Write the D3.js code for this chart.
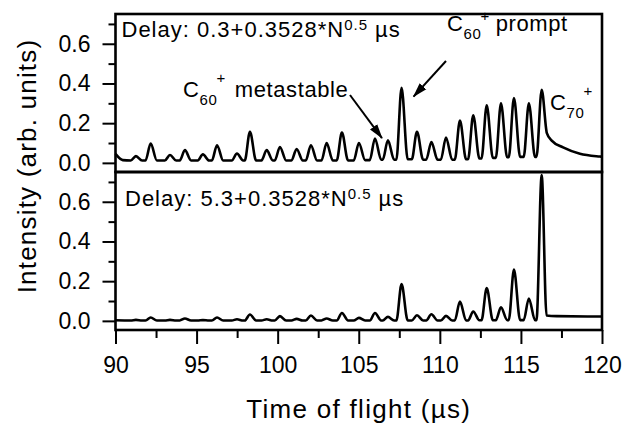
<!DOCTYPE html>
<html>
<head>
<meta charset="utf-8">
<script src="https://cdn.jsdelivr.net/npm/d3@7"></script>
<style>
 body { margin: 0; background: #fff; }
 text { font-family: "Liberation Sans", Arial, Helvetica, sans-serif; fill: #000; }
</style>
</head>
<body>
<div id="chart"></div>
<script>
// tick values
const xTicks = [90, 95, 100, 105, 110, 115, 120];
const xMinorTicks = [92.5, 97.5, 102.5, 107.5, 112.5, 117.5];
const yTicks = [0, 0.2, 0.4, 0.6];
const yMinorTicks = [0.1, 0.3, 0.5, 0.7];

// peak positions (µs), same in both spectra
const peakTimes = [91.26, 92.17, 93.36, 94.28, 95.39, 96.26, 97.49, 98.29, 99.32, 100.14,
 101.17, 102.05, 103.02, 103.96, 105.01, 106.0, 106.8, 107.64, 108.59, 109.48,
 110.38, 111.24, 112.06, 112.89, 113.77, 114.57, 115.49, 116.28];

// delay 0.3 µs
const shortHeights = [0.034, 0.097, 0.04, 0.064, 0.043, 0.089, 0.047, 0.157, 0.064, 0.08,
 0.07, 0.089, 0.1, 0.153, 0.1, 0.123, 0.114, 0.378, 0.157, 0.105,
 0.128, 0.213, 0.24, 0.29, 0.30, 0.327, 0.30, 0.368];
const shortValleys = [0.012, 0.012, 0.012, 0.012, 0.012, 0.012, 0.012, 0.012, 0.012, 0.012,
 0.012, 0.012, 0.012, 0.012, 0.012, 0.014, 0.016, 0.016, 0.018, 0.016,
 0.016, 0.016, 0.018, 0.022, 0.025, 0.028, 0.03, 0.03];
const shortStartTimes = [90, 90.45];
const shortStartValues = [0.045, 0.014];
const shortTailTimes = [116.6, 116.9, 117.6, 118.64, 119.87, 120];
const shortTailValues = [0.15, 0.112, 0.078, 0.046, 0.032, 0.031];

// delay 5.3 µs
const longHeights = [0.005, 0.017, 0.005, 0.012, 0.004, 0.017, 0.008, 0.032, 0.008, 0.024,
 0.01, 0.027, 0.012, 0.04, 0.015, 0.04, 0.02, 0.185, 0.028, 0.033,
 0.025, 0.097, 0.047, 0.165, 0.068, 0.258, 0.113, 0.735];
const longValleys = [0.002, 0.002, 0.002, 0.002, 0.002, 0.002, 0.002, 0.002, 0.002, 0.002,
 0.002, 0.002, 0.002, 0.002, 0.002, 0.002, 0.002, 0.002, 0.002, 0.002,
 0.002, 0.002, 0.002, 0.003, 0.003, 0.004, 0.004, 0.004];
const longStartTimes = [90];
const longStartValues = [0.003];
const longTailTimes = [116.58, 117.2, 120];
const longTailValues = [0.027, 0.024, 0.022];

const width = 623, height = 426;
const left = 115.5, right = 602;
const panelH = 158;
const panelTops = [14, 172];

const svg = d3.select("#chart").append("svg")
 .attr("width", width)
 .attr("height", height);

const x = d3.scaleLinear().domain([90, 120]).range([left, right]);
const y = d3.scaleLinear().domain([-0.046, 0.75]).range([panelH, 0]);

const buildSeries = (startT, startV, heights, valleys, tailT, tailV) => {
 const pts = startT.map((t, i) => [t, startV[i]]);
 peakTimes.forEach((p, i) => {
  pts.push([p - 0.32, valleys[i]]);
  pts.push([p, heights[i]]);
  if (i < peakTimes.length - 1) pts.push([p + 0.38, valleys[i + 1]]);
 });
 tailT.forEach((t, i) => pts.push([t, tailV[i]]));
 return pts;
};

const series = [
 buildSeries(shortStartTimes, shortStartValues, shortHeights, shortValleys, shortTailTimes, shortTailValues),
 buildSeries(longStartTimes, longStartValues, longHeights, longValleys, longTailTimes, longTailValues)
];

const line = d3.line()
 .x(d => x(d[0]))
 .y(d => y(d[1]))
 .curve(d3.curveMonotoneX);

svg.append("defs").append("marker")
 .attr("id", "head")
 .attr("markerUnits", "userSpaceOnUse")
 .attr("viewBox", "0 -5 15 10")
 .attr("refX", 14)
 .attr("refY", 0)
 .attr("markerWidth", 15)
 .attr("markerHeight", 10)
 .attr("orient", "auto")
 .append("path")
 .attr("d", "M0,-4.5L15,0L0,4.5Z")
 .attr("fill", "#000");

panelTops.forEach((top, k) => {
 const g = svg.append("g").attr("transform", `translate(0,${top})`);

 g.append("path")
  .datum(series[k])
  .attr("d", line)
  .attr("fill", "none")
  .attr("stroke", "#000")
  .attr("stroke-width", 2.6)
  .attr("stroke-linejoin", "round");

 const major = g.append("g")
  .attr("transform", `translate(${left},0)`)
  .call(d3.axisLeft(y).tickValues(yTicks).tickSize(13).tickPadding(12).tickFormat(d3.format(".1f")));
 const minor = g.append("g")
  .attr("transform", `translate(${left},0)`)
  .call(d3.axisLeft(y).tickValues(yMinorTicks).tickSize(7).tickFormat(""));
 [major, minor].forEach(a => {
  a.select(".domain").remove();
  a.selectAll("line").attr("stroke-width", 2);
  a.selectAll("text").style("font-size", "23px").attr("fill", "#000");
 });

 g.append("rect")
  .attr("x", left)
  .attr("y", 0)
  .attr("width", right - left)
  .attr("height", panelH)
  .attr("fill", "none")
  .attr("stroke", "#000")
  .attr("stroke-width", 2.6);
});

// x axis under the lower panel
const xg = svg.append("g").attr("transform", `translate(0,${panelTops[1] + panelH})`);
const xMajor = xg.append("g")
 .call(d3.axisBottom(x).tickValues(xTicks).tickSize(14).tickPadding(13).tickFormat(d3.format("d")));
const xMinor = xg.append("g")
 .call(d3.axisBottom(x).tickValues(xMinorTicks).tickSize(8).tickFormat(""));
[xMajor, xMinor].forEach(a => {
 a.select(".domain").remove();
 a.selectAll("line").attr("stroke-width", 2);
 a.selectAll("text").style("font-size", "23px").attr("fill", "#000");
});

// axis titles
svg.append("text")
 .attr("x", (left + right) / 2)
 .attr("y", 418)
 .attr("text-anchor", "middle")
 .style("font-size", "26px")
 .style("letter-spacing", "1.3px")
 .text("Time of flight (µs)");

svg.append("text")
 .attr("transform", "translate(36,166) rotate(-90)")
 .attr("text-anchor", "middle")
 .style("font-size", "26px")
 .style("letter-spacing", "1.2px")
 .text("Intensity (arb. units)");

// delay labels
const delayLabel = (px, py, delay) => {
 const t = svg.append("text")
  .attr("x", px).attr("y", py)
  .style("font-size", "22px")
  .style("letter-spacing", "1px");
 t.append("tspan").text(`Delay: ${delay}+0.3528*N`);
 t.append("tspan").attr("dy", -7).style("font-size", "15px").text("0.5");
 t.append("tspan").attr("dy", 7).text(" µs");
};
delayLabel(121.5, 37, "0.3");
delayLabel(125, 206, "5.3");

// ion labels: C, subscript, superscript +, then text
const ionLabel = (px, py, n, rise, gap, rest) => {
 const t = svg.append("text")
  .attr("x", px).attr("y", py)
  .style("font-size", "22px")
  .style("letter-spacing", "0.6px");
 t.append("tspan").text("C");
 t.append("tspan").attr("dy", 8).style("font-size", "15px").text(n);
 t.append("tspan").attr("dy", -8 - rise).attr("dx", -1).style("font-size", "15px").text("+");
 if (rest) t.append("tspan").attr("dy", rise).attr("dx", gap).text(rest);
};
ionLabel(183, 97, "60", 14, 9, "metastable");
ionLabel(447, 31, "60", 10, 6, "prompt");
ionLabel(550, 110, "70", 14, 0, "");

// arrows
const arrows = [
 { t1: 104.46, v1: 0.342, t2: 106.43, v2: 0.125 },
 { t1: 110.38, v1: 0.513, t2: 108.38, v2: 0.334 }
];
svg.append("g")
 .attr("transform", `translate(0,${panelTops[0]})`)
 .selectAll("line")
 .data(arrows)
 .join("line")
 .attr("x1", d => x(d.t1)).attr("y1", d => y(d.v1))
 .attr("x2", d => x(d.t2)).attr("y2", d => y(d.v2))
 .attr("stroke", "#000")
 .attr("stroke-width", 2)
 .attr("marker-end", "url(#head)");
</script>
</body>
</html>
